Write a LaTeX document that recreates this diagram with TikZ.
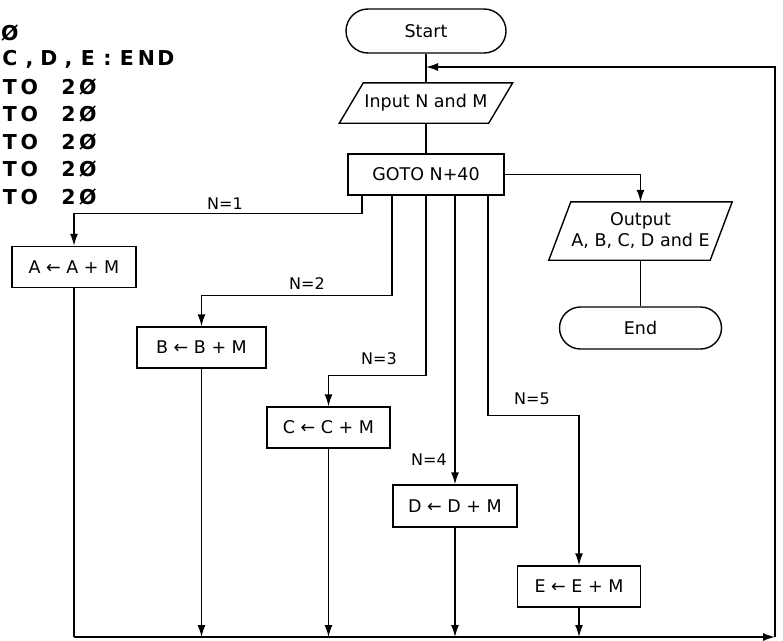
\documentclass[tikz,border=0pt]{standalone}
\usepackage{fontspec}
\setmainfont{DejaVu Sans}
\usetikzlibrary{arrows.meta,shapes.misc,calc}
\newcommand\lblfont{\fontsize{17.5}{21}\selectfont}
\newcommand\nfont{\fontsize{16}{19}\selectfont}
\newcommand\codefont{\fontsize{20.5}{24}\bfseries\selectfont}
\newcommand\cc[1]{\makebox[19.5pt]{#1}}
\tikzset{
  line/.style={line width=1.4pt},
  arr/.style={line, -{Latex[length=12pt,width=8pt]}},
  proc/.style={draw, line width=1.4pt, minimum width=124pt, minimum height=41pt, inner sep=0pt, font=\lblfont},
  term/.style={draw, line width=1.4pt, rounded rectangle, minimum width=160pt, minimum height=44pt, inner sep=0pt, font=\lblfont},
  io/.style={inner sep=0pt, font=\lblfont, align=center},
  lab/.style={font=\nfont, inner sep=0pt},
  code/.style={font=\codefont, inner sep=0pt, anchor=west}
}
\begin{document}
\begin{tikzpicture}[x=1pt,y=-1pt]
\useasboundingbox (0,0) rectangle (783,640);
% left program text
\node[code] (r1) at (0,33) {\cc{Ø}};
\node[code] (r2) at (0,59.5) {\cc{C}\cc{,}\cc{D}\cc{,}\cc{E}\cc{:}\cc{E}\cc{N}\cc{D}};
\node[code] (r3) at (0,87) {\cc{T}\cc{O}\cc{ }\cc{2}\cc{Ø}};
\node[code] (r4) at (0,114.5) {\cc{T}\cc{O}\cc{ }\cc{2}\cc{Ø}};
\node[code] (r5) at (0,142) {\cc{T}\cc{O}\cc{ }\cc{2}\cc{Ø}};
\node[code] (r6) at (0,169.5) {\cc{T}\cc{O}\cc{ }\cc{2}\cc{Ø}};
\node[code] (r7) at (0,197) {\cc{T}\cc{O}\cc{ }\cc{2}\cc{Ø}};
% main nodes
\node[term] (st) at (426,31) {Start};
\node[io, minimum width=173pt, minimum height=40pt] (in) at (426,103) {Input N and M};
\draw[line, line join=miter] ([xshift=24pt]in.north west) -- (in.north east) -- ([xshift=-24pt]in.south east) -- (in.south west) -- cycle;
\node[proc, minimum width=156pt] (go) at (426,174.5) {GOTO N+40};
\node[io, minimum width=183pt, minimum height=58pt] (out) at (640.5,231) {Output\\A, B, C, D and E};
\draw[line, line join=miter] ([xshift=22pt]out.north west) -- (out.north east) -- ([xshift=-22pt]out.south east) -- (out.south west) -- cycle;
\node[term, minimum width=162pt, minimum height=42pt] (en) at (640.5,328) {End};
\node[proc] (A) at (74,267) {A ← A + M};
\node[proc, minimum width=129pt] (B) at (201.5,347.5) {B ← B + M};
\node[proc, minimum width=123pt] (C) at (328.5,427.5) {C ← C + M};
\node[proc, minimum height=42pt] (D) at (455,506) {D ← D + M};
\node[proc, minimum width=123pt] (E) at (579,586.5) {E ← E + M};
% labels
\node[lab] (l1) at (225,204) {N=1};
\node[lab] (l2) at (307,284) {N=2};
\node[lab] (l3) at (379,359) {N=3};
\node[lab] (l4) at (429,460) {N=4};
\node[lab] (l5) at (532,399) {N=5};
% helper coordinates
\coordinate (entry) at (426,67);
\coordinate (bot) at (74,637);
\coordinate (corner) at (775,637);
% main flow
\draw[line] (st.south) -- (in.north);
\draw[line] (in.south) -- (go.north);
\draw[arr] (go.east) -| (out.north);
\draw[line] (out.south) -- (en.north);
% branches
\draw[arr] ([xshift=-64pt]go.south) -- ++(0,18) -| (A.north);
\draw[arr] ([xshift=-34pt]go.south) -- ++(0,100) -| (B.north);
\draw[arr] (go.south) -- ++(0,179.5) -| (C.north);
\draw[arr] ([xshift=29pt]go.south) -- (D.north);
\draw[arr] ([xshift=62pt]go.south) -- ++(0,220) -| (E.north);
% returns
\draw[line] (A.south) -- (A.south |- bot);
\draw[arr] (B.south) -- (B.south |- bot);
\draw[arr] (C.south) -- (C.south |- bot);
\draw[arr] (D.south) -- (D.south |- bot);
\draw[arr] (E.south) -- (E.south |- bot);
\draw[arr] (A.south |- bot) -- (corner);
\draw[arr] (corner) -- (corner |- entry) -- (entry);
\end{tikzpicture}
\end{document}
